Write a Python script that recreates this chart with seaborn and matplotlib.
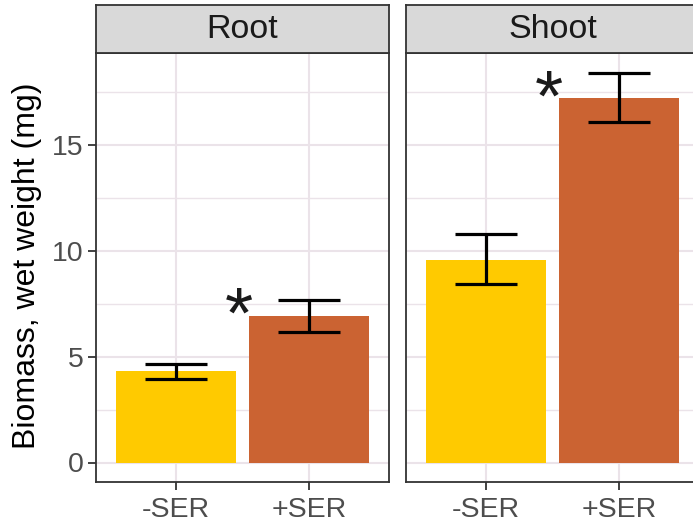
import matplotlib
matplotlib.use("Agg")
import matplotlib.pyplot as plt
import seaborn as sns
import pandas as pd
import numpy as np

# Biomass (wet weight, mg): mean and error range per tissue and treatment
tissues = ["Root", "Shoot"]
treatments = ["-SER", "+SER"]
root_mean = [4.32, 6.92]
root_low = [3.97, 6.18]
root_high = [4.67, 7.68]
shoot_mean = [9.57, 17.22]
shoot_low = [8.45, 16.08]
shoot_high = [10.82, 18.44]
significant = {"Root": [False, True], "Shoot": [False, True]}

colors = {"-SER": "#FFCA00", "+SER": "#CB6332"}

df = pd.DataFrame({
    "tissue": ["Root"] * 2 + ["Shoot"] * 2,
    "treatment": treatments * 2,
    "mean": root_mean + shoot_mean,
    "low": root_low + shoot_low,
    "high": root_high + shoot_high,
})

sns.set_theme(style="white")
plt.rcParams["font.family"] = ["Liberation Sans", "DejaVu Sans"]

W, H = 693, 529
fig = plt.figure(figsize=(W / 100, H / 100), dpi=100)

def frac_box(x0, y0, x1, y1):
    return [x0 / W, 1 - y1 / H, (x1 - x0) / W, (y1 - y0) / H]

ymax = df["high"].max()
ylim = (-0.05 * ymax, ymax * 1.05)

border = "#333333"
grid_c = "#EBE3E9"
tick_c = "#4D4D4D"

for i, tissue in enumerate(tissues):
    x0 = [96, 406][i]
    x1 = x0 + 293
    ax = fig.add_axes(frac_box(x0, 53, x1, 482))
    sub = df[df["tissue"] == tissue]
    sns.barplot(data=sub, x="treatment", y="mean", hue="treatment",
                order=treatments, hue_order=treatments, palette=colors,
                saturation=1, width=0.9, linewidth=0, errorbar=None,
                legend=False, ax=ax, zorder=2)
    xs = np.arange(len(treatments))
    m = sub["mean"].to_numpy()
    lo = sub["low"].to_numpy()
    hi = sub["high"].to_numpy()
    ax.errorbar(xs, m, yerr=[m - lo, hi - m], fmt="none", ecolor="black",
                elinewidth=2.3, capsize=22.5, capthick=2.3, zorder=3)
    for j, sig in enumerate(significant[tissue]):
        if sig:
            ax.text(xs[j] - 0.53, m[j] + 0.2, "*", ha="center",
                    va="center_baseline", fontsize=52, color="#1a1a1a",
                    zorder=4)
    ax.set_xlim(-0.6, 1.6)
    ax.set_ylim(*ylim)
    ax.set_yticks([0, 5, 10, 15])
    ax.set_yticks([2.5, 7.5, 12.5, 17.5], minor=True)
    ax.set_xlabel("")
    ax.set_ylabel("")
    ax.grid(True, which="major", color=grid_c, linewidth=1.5, zorder=0)
    ax.grid(True, which="minor", axis="y", color=grid_c, linewidth=1.0, zorder=0)
    ax.set_axisbelow(True)
    for s in ax.spines.values():
        s.set_visible(True)
        s.set_color(border)
        s.set_linewidth(1.3)
    ax.tick_params(axis="both", which="major", length=6, width=1.3,
                   color=border, labelsize=20.5, labelcolor=tick_c,
                   left=(i == 0), bottom=True, labelleft=(i == 0))
    ax.tick_params(axis="x", pad=5)
    ax.tick_params(axis="y", pad=3)
    ax.tick_params(which="minor", length=0)

    # facet strip
    sax = fig.add_axes(frac_box(x0, 5, x1, 53))
    sax.set_facecolor("#D9D9D9")
    sax.set_xticks([])
    sax.set_yticks([])
    for s in sax.spines.values():
        s.set_color(border)
        s.set_linewidth(1.3)
    sax.text(0.5, 0.5, tissue, transform=sax.transAxes, ha="center",
             va="center", fontsize=24.5, color="#1A1A1A")

fig.text(27 / W, 1 - 266 / H, "Biomass, wet weight (mg)", rotation=90,
         ha="center", va="center", fontsize=23, color="black")

fig.savefig("out.png", dpi=100)
